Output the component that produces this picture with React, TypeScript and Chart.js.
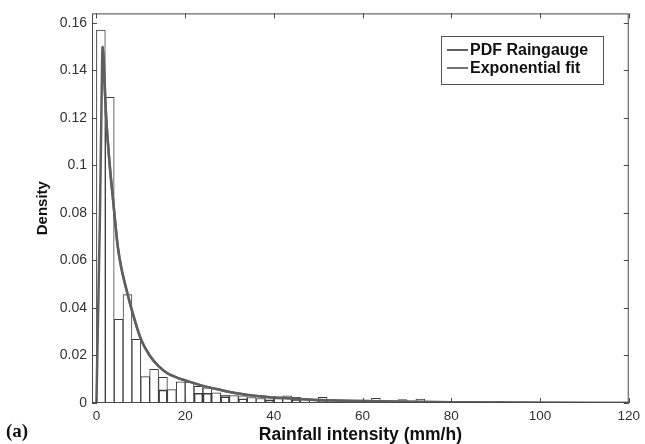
import React, { useEffect, useRef } from "react";
import { Chart, registerables } from "chart.js";

Chart.register(...registerables);

// Histogram bins (bin start, mm/h), width 2
const BIN_START = [
  0, 2, 4, 6, 8, 10, 12, 14, 16, 18,
  20, 22, 24, 26, 28, 30, 32, 34, 36, 38,
  40, 42, 44, 46, 48, 50, 52, 54, 56, 58,
  60, 62, 64, 66, 68, 70, 72, 74, 76, 78,
  80, 82, 84, 86, 88, 90, 92, 94, 96, 98,
  100, 102, 104, 106, 108, 110, 112, 114, 116, 118,
];
const BIN_WIDTH = 2;

// Histogram density
const DENSITY = [
  0.157, 0.1287, 0.0352, 0.0456, 0.0268, 0.0111, 0.0142, 0.0108, 0.0056, 0.0089,
  0.0088, 0.007, 0.0064, 0.0043, 0.0033, 0.0031, 0.003, 0.0023, 0.0019, 0.0025,
  0.0019, 0.003, 0.0024, 0.0016, 0.0014, 0.0024, 0.0012, 0.001, 0.0008, 0.0006,
  0.0009, 0.002, 0.0007, 0.0005, 0.0014, 0.0004, 0.0016, 0.0006, 0.0003, 0.0002,
  0.0002, 0.0001, 0.0002, 0.0001, 0.0001, 0.0007, 0.0001, 0, 0, 0.0001,
  0, 0, 0, 0, 0, 0, 0, 0, 0, 0,
];

// Lower overlaid bin outlines (visible as inner lines)
const INNER_BIN_START = [14, 22, 24, 28, 32, 38, 44, 50];
const INNER_DENSITY = [0.0055, 0.0041, 0.0041, 0.0027, 0.0018, 0.0013, 0.0015, 0.0012];

// PDF Raingauge curve
const PDF_X = [0, 0.3, 0.8, 1.1, 1.4, 2.2, 3, 3.7, 4.8, 5.6, 7, 8, 10, 12, 14, 16, 18, 20, 24, 28, 32, 36, 40, 45, 50, 60, 70, 80, 100, 120];
const PDF_Y = [0, 0.03, 0.08, 0.12, 0.15, 0.12, 0.1, 0.0865, 0.066, 0.057, 0.046, 0.039, 0.027, 0.02, 0.0155, 0.0125, 0.0108, 0.0095, 0.0072, 0.0055, 0.004, 0.0029, 0.0023, 0.0018, 0.0013, 0.0008, 0.0005, 0.0003, 0.0001, 0];

// Exponential fit curve
const FIT_X = [1.4, 2.2, 3, 3.7, 4.8, 5.6, 7, 8, 10, 12, 14, 16, 18, 20, 24, 28, 32, 36, 40, 45, 50, 60, 70, 80, 100, 120];
const FIT_Y = [0.15, 0.12, 0.1, 0.0865, 0.066, 0.057, 0.046, 0.039, 0.027, 0.02, 0.0155, 0.0125, 0.0108, 0.0095, 0.0072, 0.0055, 0.004, 0.0029, 0.0023, 0.0018, 0.0013, 0.0008, 0.0005, 0.0003, 0.0001, 0];

const X_TICKS = [0, 20, 40, 60, 80, 100, 120];
const Y_TICKS = [0, 0.02, 0.04, 0.06, 0.08, 0.1, 0.12, 0.14, 0.16];
const Y_TICK_LABELS = ["0", "0.02", "0.04", "0.06", "0.08", "0.1", "0.12", "0.14", "0.16"];

const SANS = '"Liberation Sans", Arial, sans-serif';

const framePlugin = {
  id: "matlabFrame",
  afterDraw(chart: any) {
    const { ctx, chartArea: a, scales } = chart;
    ctx.save();
    ctx.strokeStyle = "#4a4a4a";
    ctx.lineWidth = 1;
    ctx.strokeRect(a.left + 0.5, a.top + 0.5, a.right - a.left - 1, a.bottom - a.top - 1);
    ctx.beginPath();
    const tl = 5;
    X_TICKS.forEach((v) => {
      const px = Math.round(scales.x.getPixelForValue(v)) + 0.5;
      ctx.moveTo(px, a.bottom);
      ctx.lineTo(px, a.bottom - tl);
      ctx.moveTo(px, a.top);
      ctx.lineTo(px, a.top + tl);
    });
    Y_TICKS.forEach((v) => {
      const py = Math.round(scales.y.getPixelForValue(v)) + 0.5;
      ctx.moveTo(a.left, py);
      ctx.lineTo(a.left + tl, py);
      ctx.moveTo(a.right, py);
      ctx.lineTo(a.right - tl, py);
    });
    ctx.stroke();

    // legend
    const lines = chart.data.datasets.filter((d: any) => d.type === "line");
    const bx = 441, by = 36, bw = 162, rowH = 18;
    const bh = 12 + rowH * lines.length;
    ctx.fillStyle = "#ffffff";
    ctx.fillRect(bx, by, bw, bh);
    ctx.strokeStyle = "#555";
    ctx.lineWidth = 1;
    ctx.strokeRect(bx + 0.5, by + 0.5, bw, bh);
    ctx.font = `bold 16px ${SANS}`;
    ctx.textBaseline = "middle";
    ctx.textAlign = "left";
    lines.forEach((d: any, i: number) => {
      const cy = by + 14 + i * rowH;
      ctx.strokeStyle = d.borderColor;
      ctx.lineWidth = 2;
      ctx.beginPath();
      ctx.moveTo(bx + 6, cy);
      ctx.lineTo(bx + 27, cy);
      ctx.stroke();
      ctx.fillStyle = "#111";
      ctx.fillText(d.label, bx + 29, cy + 1);
    });
    ctx.restore();
  },
};

export default function App() {
  const ref = useRef<HTMLCanvasElement | null>(null);

  useEffect(() => {
    if (!ref.current) return;
    const histData = BIN_START.map((s, i) => ({ x: s + BIN_WIDTH / 2, y: DENSITY[i] }));
    const innerData = INNER_BIN_START.map((s, i) => ({ x: s + BIN_WIDTH / 2, y: INNER_DENSITY[i] }));
    const pdfData = PDF_X.map((x, i) => ({ x, y: PDF_Y[i] }));
    const fitData = FIT_X.map((x, i) => ({ x, y: FIT_Y[i] }));

    const chart = new Chart(ref.current, {
      type: "bar",
      data: {
        datasets: [
          {
            type: "line",
            label: "PDF Raingauge",
            data: pdfData,
            borderColor: "#5f5f5f",
            borderWidth: 2.5,
            pointRadius: 0,
            cubicInterpolationMode: "monotone",
            order: 0,
          },
          {
            type: "line",
            label: "Exponential fit",
            data: fitData,
            borderColor: "#727272",
            borderWidth: 2.5,
            pointRadius: 0,
            cubicInterpolationMode: "monotone",
            order: 1,
          },
          {
            type: "bar",
            label: "inner",
            data: innerData,
            backgroundColor: "rgba(0,0,0,0)",
            borderColor: "#3c3c3c",
            borderWidth: 1,
            barPercentage: 1,
            categoryPercentage: 1,
            order: 2,
          },
          {
            type: "bar",
            label: "Histogram",
            data: histData,
            backgroundColor: "#ffffff",
            borderColor: "#3c3c3c",
            borderWidth: 1,
            barPercentage: 1,
            categoryPercentage: 1,
            order: 3,
          },
        ] as any,
      },
      options: {
        responsive: false,
        animation: false,
        layout: { padding: { left: 0, right: 13, top: 12, bottom: 0 } },
        plugins: { legend: { display: false }, tooltip: { enabled: false } },
        scales: {
          x: {
            type: "linear",
            min: -1,
            max: 120,
            offset: false,
            stacked: true,
            grid: { display: false, drawTicks: false },
            border: { display: false },
            afterBuildTicks: (s: any) => {
              s.ticks = X_TICKS.map((v) => ({ value: v }));
            },
            afterFit: (s: any) => {
              s.height = 41;
            },
            ticks: {
              padding: 5,
              color: "#333",
              font: { family: SANS, size: 13.5 },
              maxRotation: 0,
              callback: (v: any) => String(v),
            },
            title: {
              display: true,
              text: "Rainfall intensity (mm/h)",
              color: "#111",
              font: { family: SANS, size: 17.5, weight: "bold", lineHeight: 1 },
              padding: { top: 0, bottom: 0 },
            },
          },
          y: {
            type: "linear",
            min: 0,
            max: 0.164,
            stacked: false,
            grid: { display: false, drawTicks: false },
            border: { display: false },
            afterBuildTicks: (s: any) => {
              s.ticks = Y_TICKS.map((v) => ({ value: v }));
            },
            afterFit: (s: any) => {
              s.width = 92;
            },
            ticks: {
              padding: 5,
              color: "#333",
              font: { family: SANS, size: 14 },
              callback: (_v: any, i: number) => Y_TICK_LABELS[i],
            },
            title: {
              display: true,
              text: "Density",
              color: "#111",
              font: { family: SANS, size: 15, weight: "bold", lineHeight: 1 },
              padding: { top: 35, bottom: 0 },
            },
          },
        },
      } as any,
      plugins: [framePlugin],
    });
    return () => chart.destroy();
  }, []);

  return (
    <div style={{ position: "fixed", left: 0, top: 0, width: 645, height: 444, background: "#fff" }}>
      <canvas ref={ref} width={645} height={444} style={{ display: "block" }} />
      <span
        style={{
          position: "absolute",
          left: 6,
          top: 421,
          fontFamily: '"Liberation Serif", "Times New Roman", serif',
          fontWeight: "bold",
          fontSize: 19,
          lineHeight: 1,
          color: "#111",
        }}
      >
        (a)
      </span>
    </div>
  );
}
